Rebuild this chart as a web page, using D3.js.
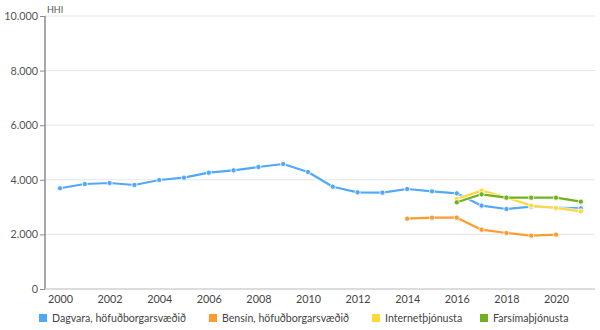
<!DOCTYPE html>
<html><head><meta charset="utf-8">
<script src="https://cdn.jsdelivr.net/npm/d3@7"></script>
<style>body{margin:0;background:#fff;}svg{display:block;font-family:Lato, "Noto Sans", sans-serif;}</style>
</head><body><svg id="c" width="600" height="330"></svg>
<script>
const years = d3.range(2000, 2022);
const dagvara = [3690,3846,3883,3810,3993,4077,4260,4347,4469,4579,4286,3747,3541,3529,3663,3578,3504,3053,2930,3016,2980,2955];
const bensinYears = [2014,2015,2016,2017,2018,2019,2020];
const bensin = [2576,2613,2613,2173,2051,1954,1990];
const netYears = [2016,2017,2018,2019,2020,2021];
const internet = [3297,3602,3358,3053,2967,2845];
const farsimi = [3175,3468,3345,3345,3345,3199];
const seriesNames = ["Dagvara, höfuðborgarsvæðið","Bensín, höfuðborgarsvæðið","Internetþjónusta","Farsímaþjónusta"];
const colors = ["#52a8f8","#ff9a2e","#ffd83b","#72b11d"];
const yTicks = [0,2000,4000,6000,8000,10000];
const xTicks = [2000,2002,2004,2006,2008,2010,2012,2014,2016,2018,2020];

const series = [
  {name: seriesNames[0], color: colors[0], pts: years.map((y,i)=>[y,dagvara[i]])},
  {name: seriesNames[1], color: colors[1], pts: bensinYears.map((y,i)=>[y,bensin[i]])},
  {name: seriesNames[2], color: colors[2], pts: netYears.map((y,i)=>[y,internet[i]])},
  {name: seriesNames[3], color: colors[3], pts: netYears.map((y,i)=>[y,farsimi[i]])}
];

const svg = d3.select("#c");
const L = 45, R = 595, T = 16, B = 289;
const x = d3.scaleLinear().domain([2000,2020]).range([60,556]);
const y = d3.scaleLinear().domain([0,10000]).range([B,T]);
const fmt = v => d3.format(",")(v).replace(/,/g,".");

// grid
svg.append("g").selectAll("line").data(yTicks.filter(d=>d>0)).join("line")
  .attr("x1",L).attr("x2",R).attr("y1",d=>y(d)).attr("y2",d=>y(d))
  .attr("stroke","#e6e6e6").attr("stroke-width",1);

// y axis
const ya = svg.append("g").attr("transform",`translate(${L},0)`)
  .call(d3.axisLeft(y).tickValues(yTicks).tickFormat(fmt).tickSize(5).tickPadding(2));
ya.select(".domain").attr("stroke","#8a8a96").attr("stroke-width",1.5).attr("d",`M0,${T}V${B}`);
ya.selectAll(".tick line").attr("stroke","#8a8a96");
ya.selectAll("text").attr("fill","#555").attr("font-size",10.8).attr("font-family","Lato, sans-serif");

// x axis
const xa = svg.append("g").attr("transform",`translate(0,${B})`)
  .call(d3.axisBottom(x).tickValues(xTicks).tickFormat(d3.format("d")).tickSize(0).tickPadding(6));
xa.select(".domain").attr("stroke","#d0d0d0").attr("stroke-width",1.5).attr("d",`M${L},0H${R}`);
xa.selectAll("text").attr("fill","#444").attr("font-size",10.8).attr("font-family","Lato, sans-serif");

svg.append("text").attr("x",47).attr("y",13).text("HHI").attr("font-size",9).attr("fill","#555");

const line = d3.line().x(d=>x(d[0])).y(d=>y(d[1]));
series.forEach(s=>{
  svg.append("path").datum(s.pts).attr("d",line).attr("fill","none")
    .attr("stroke","#fff").attr("stroke-width",4).attr("stroke-linejoin","round").attr("opacity",0.7);
  svg.append("path").datum(s.pts).attr("d",line).attr("fill","none")
    .attr("stroke",s.color).attr("stroke-width",2.2).attr("stroke-linejoin","round");
  svg.append("g").selectAll("circle").data(s.pts).join("circle")
    .attr("cx",d=>x(d[0])).attr("cy",d=>y(d[1])).attr("r",2.6)
    .attr("fill",s.color).attr("stroke","#fff").attr("stroke-width",0.8);
});

// legend
const legX = [39,209,372,480];
const lg = svg.append("g");
series.forEach((s,i)=>{
  lg.append("rect").attr("x",legX[i]).attr("y",314).attr("width",8).attr("height",8).attr("fill",s.color);
  lg.append("text").attr("x",legX[i]+13).attr("y",322).text(s.name).attr("font-size",10.6).attr("fill","#444");
});
</script></body></html>
